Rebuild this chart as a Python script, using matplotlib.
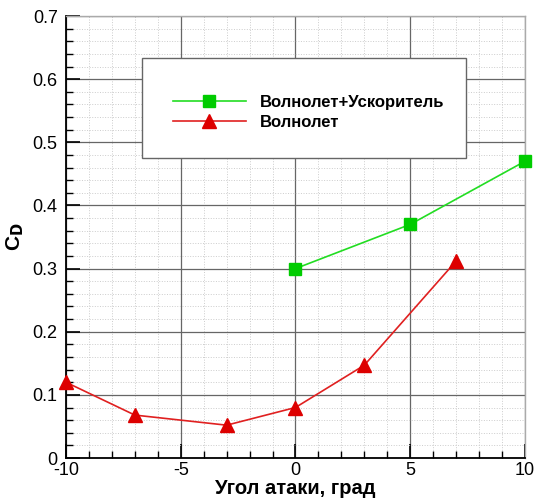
import numpy as np
import matplotlib.pyplot as plt
from matplotlib.ticker import MultipleLocator
from matplotlib.patches import Rectangle

plt.rcParams['font.family'] = ['Liberation Sans', 'DejaVu Sans']
plt.rcParams['axes.unicode_minus'] = False

# data
alpha_acc = [0, 5, 10]
cd_acc = [0.30, 0.37, 0.47]
alpha_wave = [-10, -7, -3, 0, 3, 7]
cd_wave = [0.12, 0.068, 0.052, 0.08, 0.147, 0.312]

fig = plt.figure(figsize=(5.39, 5.01), dpi=100)
ax = fig.add_axes([0.1224, 0.0858, 0.8516, 0.8822])

ax.plot(alpha_acc, cd_acc, color='#22dd22', marker='s', markersize=8.5,
        markerfacecolor='#00cc00', markeredgecolor='#00cc00', lw=1.2,
        label='Волнолет+Ускоритель', zorder=5, clip_on=False)
ax.plot(alpha_wave, cd_wave, color='#e02020', marker='^', markersize=10,
        markerfacecolor='#dd0000', markeredgecolor='#dd0000', lw=1.2,
        label='Волнолет', zorder=5, clip_on=False)

ax.set_xlim(-10, 10)
ax.set_ylim(0, 0.7)
ax.xaxis.set_major_locator(MultipleLocator(5))
ax.xaxis.set_minor_locator(MultipleLocator(1))
ax.yaxis.set_minor_locator(MultipleLocator(0.02))
ax.set_yticks(np.arange(0, 0.71, 0.1))
ax.set_yticklabels(['0', '0.1', '0.2', '0.3', '0.4', '0.5', '0.6', '0.7'])

ax.grid(which='major', color='#666666', lw=0.9)
ax.grid(which='minor', color='#cccccc', lw=0.7, linestyle=':')
ax.set_axisbelow(True)
ax.tick_params(which='major', direction='in', length=10, width=1.2, labelsize=13)
ax.tick_params(which='minor', direction='in', length=5, width=1.0)
ax.tick_params(axis='x', which='major', pad=3)
ax.tick_params(axis='y', which='major', pad=6)

for s in ['left', 'bottom']:
    ax.spines[s].set_color('black')
    ax.spines[s].set_linewidth(1.3)
for s in ['right', 'top']:
    ax.spines[s].set_color('#aaaaaa')
    ax.spines[s].set_linewidth(1.0)

ax.set_xlabel('Угол атаки, град', fontsize=14.5, fontweight='bold', labelpad=0)
ax.set_ylabel('C$_\\mathbf{D}$', fontsize=15, fontweight='bold', labelpad=5)

# legend box
box = Rectangle((0.166, 0.679), 0.705, 0.226, transform=ax.transAxes,
                facecolor='white', edgecolor='#666666', lw=1.0, zorder=3)
ax.add_patch(box)
leg = ax.legend(loc='upper left', bbox_to_anchor=(0.2, 0.855), frameon=False,
                handlelength=4.4, handletextpad=0.8, labelspacing=0.3,
                prop={'size': 12, 'weight': 'bold'})
leg.set_zorder(6)

fig.savefig('out.png', dpi=100)
